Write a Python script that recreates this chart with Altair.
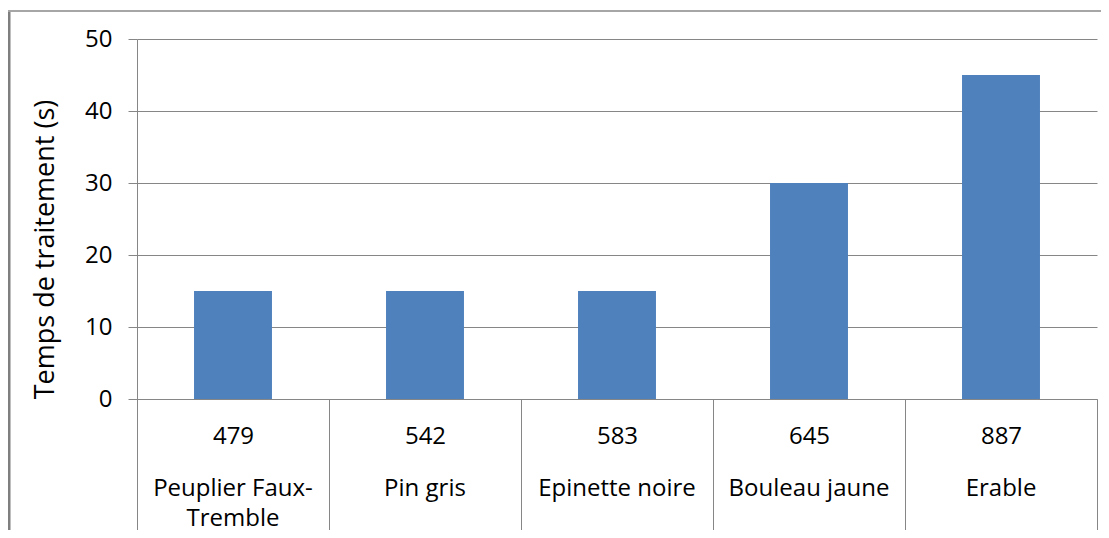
import altair as alt
import pandas as pd

# Data
densities = ["479", "542", "583", "645", "887"]
species = ["Peuplier Faux-|Tremble", "Pin gris", "Epinette noire", "Bouleau jaune", "Erable"]
times = [15, 15, 15, 30, 45]
y_ticks = [0, 10, 20, 30, 40, 50]

GRAY = "#868686"
BLUE = "#4F81BD"
FONT = "Open Sans"

df = pd.DataFrame({"density": densities, "species": species, "time": times})
# multi-level category: density | species lines
df["label"] = [d + "|" + s for d, s in zip(densities, species)]

scale_x = alt.Scale(paddingInner=0, paddingOuter=0)

axis_density = alt.Axis(
    title=None,
    orient="bottom",
    tickBand="extent",
    tickSize=136,
    tickColor=GRAY,
    tickWidth=1,
    domainColor=GRAY,
    domainWidth=1,
    labelExpr="split(datum.label, '|')[0]",
    labelPadding=-111,
    labelFont=FONT,
    labelFontSize=24,
    labelColor="#000000",
    labelAngle=0,
    labelBaseline="top",
    labelOverlap=False,
    labelBound=False,
)

axis_species = alt.Axis(
    title=None,
    orient="bottom",
    ticks=False,
    domain=False,
    grid=False,
    labelExpr="slice(split(datum.label, '|'), 1)",
    labelLineHeight=30,
    labelPadding=77,
    labelFont=FONT,
    labelFontSize=24,
    labelColor="#000000",
    labelAngle=0,
    labelBaseline="top",
    labelOverlap=False,
    labelBound=False,
)

y_enc = alt.Y(
    "time:Q",
    scale=alt.Scale(domain=[0, 50], nice=False, zero=True),
    axis=alt.Axis(
        values=y_ticks,
        title="Temps de traitement (s)",
        titleFont=FONT,
        titleFontSize=27,
        titleFontWeight="normal",
        titleColor="#000000",
        titleAngle=-90,
        titleAlign="center",
        titleBaseline="middle",
        titleX=-92,
        titleY=210,
        grid=True,
        gridColor=GRAY,
        gridWidth=1,
        tickSize=9,
        tickColor=GRAY,
        domainColor=GRAY,
        labelFont=FONT,
        labelFontSize=24,
        labelColor="#000000",
        labelPadding=16,
    ),
)

bars = alt.Chart(df).mark_bar(color=BLUE, width=alt.RelativeBandSize(0.406)).encode(
    x=alt.X("label:N", sort=None, scale=scale_x, axis=axis_density), y=y_enc
)
bars_species_axis = alt.Chart(df).mark_bar(opacity=0, width=alt.RelativeBandSize(0.406)).encode(
    x=alt.X("label:N", sort=None, scale=scale_x, axis=axis_species), y=y_enc
)

frame_df = pd.DataFrame({"k": [0]})
left_border = alt.Chart(frame_df).mark_rule(color="#7f7f7f", strokeWidth=3).encode(
    x=alt.value(-128), y=alt.value(-28), y2=alt.value(540)
)
top_border = alt.Chart(frame_df).mark_rule(color="#a6a6a6", strokeWidth=2).encode(
    x=alt.value(-129), x2=alt.value(1000), y=alt.value(-28)
)

chart = (
    alt.layer(bars, bars_species_axis, left_border, top_border)
    .resolve_axis(x="independent")
    .properties(
        width=960,
        height=360,
        autosize=alt.AutoSizeParams(type="none"),
        padding={"left": 129, "top": 31, "right": 4, "bottom": 131},
    )
    .configure_view(stroke=None)
)

chart.save("out.html", embed_options={"renderer": "svg", "actions": False})
